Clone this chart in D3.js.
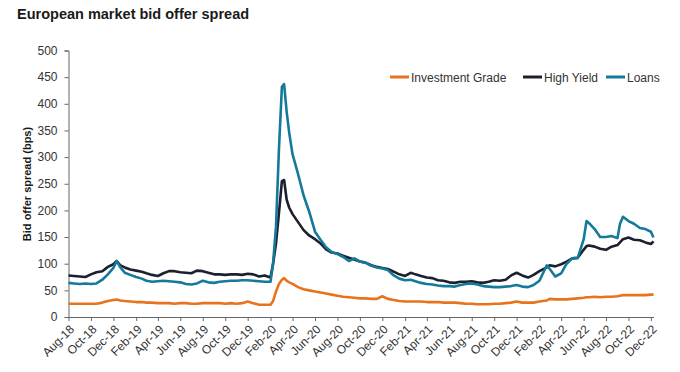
<!doctype html>
<html lang="en">
<head>
  <meta charset="utf-8">
  <title>European market bid offer spread</title>
  <style>
    body { margin: 0; background: #fff; }
    svg { font-family: "Liberation Sans", Arial, sans-serif; }
    .title { font-size: 14.5px; font-weight: bold; fill: #1a1a1a; }
    .axis text { font-size: 12px; fill: #333; }
    .axis path, .axis line { stroke: #666; }
    .ytitle { font-size: 11px; font-weight: bold; fill: #1a1a1a; }
    .legend text { font-size: 12px; fill: #333; }
  </style>
</head>
<body>
  <svg width="680" height="372"></svg>
  <script src="https://cdn.jsdelivr.net/npm/d3@7"></script>
  <script>
    // data
    var dates = [
      "2018-08-01","2018-08-16","2018-09-01","2018-09-16","2018-10-01","2018-10-16","2018-11-01","2018-11-16",
      "2018-12-01","2018-12-10","2018-12-20","2019-01-01","2019-01-16","2019-02-01","2019-02-16","2019-03-01",
      "2019-03-16","2019-04-01","2019-04-16","2019-05-01","2019-05-16","2019-06-01","2019-06-16","2019-07-01",
      "2019-07-16","2019-08-01","2019-08-16","2019-09-01","2019-09-16","2019-10-01","2019-10-16","2019-11-01",
      "2019-11-16","2019-12-01","2019-12-16","2020-01-01","2020-01-16","2020-02-01","2020-02-08","2020-02-16",
      "2020-02-24","2020-03-03","2020-03-09","2020-03-16","2020-03-23","2020-04-01","2020-04-16","2020-05-01",
      "2020-05-16","2020-06-01","2020-06-16","2020-07-01","2020-07-16","2020-08-01","2020-08-16","2020-09-01",
      "2020-09-16","2020-10-01","2020-10-16","2020-11-01","2020-11-16","2020-12-01","2020-12-16","2021-01-01",
      "2021-01-16","2021-02-01","2021-02-16","2021-03-01","2021-03-16","2021-04-01","2021-04-16","2021-05-01",
      "2021-05-16","2021-06-01","2021-06-16","2021-07-01","2021-07-16","2021-08-01","2021-08-16","2021-09-01",
      "2021-09-16","2021-10-01","2021-10-16","2021-11-01","2021-11-16","2021-12-01","2021-12-16","2022-01-01",
      "2022-01-16","2022-02-01","2022-02-21","2022-03-01","2022-03-16","2022-04-01","2022-04-16","2022-05-01",
      "2022-05-16","2022-06-01","2022-06-09","2022-06-16","2022-07-01","2022-07-16","2022-08-01","2022-08-16",
      "2022-09-01","2022-09-08","2022-09-16","2022-10-01","2022-10-16","2022-11-01","2022-11-16","2022-12-01",
      "2022-12-08"
    ];

    var investmentGrade = [
      25,25,25,25,25,25,27,30, 32,33,31,30,29,28,28,27,
      27,26,26,26,25,26,26,25, 25,26,26,26,26,25,26,25,
      26,29,26,23,23,23,30,48, 62,70,73,68,65,62,56,52,
      50,48,46,44,42,40,38,37, 36,35,35,34,34,39,34,32,
      30,29,29,29,29,28,28,28, 27,27,27,26,25,25,24,24,
      24,25,25,26,27,29,27,27, 27,29,31,34,33,33,33,34,
      35,36,37,37,38,37,38,38, 39,40,41,41,41,41,41,42,
      42
    ];

    var highYield = [
      78,77,76,75,80,84,86,94, 99,105,97,93,89,87,85,82,
      79,77,82,86,86,84,83,82, 87,86,83,80,80,79,80,80,
      79,81,80,76,78,74,100,138, 195,255,257,220,205,193,178,163,
      153,146,138,127,121,119,115,111, 108,104,102,97,94,92,90,85,
      80,77,83,80,77,74,73,69, 68,65,64,66,66,67,65,64,
      66,69,68,70,78,83,78,74, 79,86,93,97,95,99,104,110,
      111,126,133,134,132,128,126,132, 135,140,146,149,145,144,140,137,
      142
    ];

    var loans = [
      64,63,62,63,62,63,70,80, 92,105,93,83,79,75,72,68,
      66,67,68,67,66,65,62,61, 63,68,65,64,66,67,68,68,
      69,69,68,67,66,66,100,170, 315,432,437,385,345,305,268,228,
      198,160,145,131,122,118,113,105, 110,104,102,96,93,91,88,78,
      72,69,70,67,64,62,61,59, 58,58,57,60,62,63,61,58,
      57,56,56,57,58,60,57,56, 60,68,97,90,76,82,100,110,
      111,145,180,176,165,150,150,152, 148,175,188,180,175,167,165,160,
      149
    ];

    var seriesNames = ["Investment Grade", "High Yield", "Loans"];
    var seriesColors = ["#e8731c", "#1c1f2e", "#14799b"];
    var yTicks = [0, 50, 100, 150, 200, 250, 300, 350, 400, 450, 500];
    var xTickLabels = [
      "Aug-18","Oct-18","Dec-18","Feb-19","Apr-19","Jun-19","Aug-19","Oct-19","Dec-19",
      "Feb-20","Apr-20","Jun-20","Aug-20","Oct-20","Dec-20","Feb-21","Apr-21","Jun-21",
      "Aug-21","Oct-21","Dec-21","Feb-22","Apr-22","Jun-22","Aug-22","Oct-22","Dec-22"
    ];

    var svg = d3.select("svg");
    var parseDate = d3.timeParse("%Y-%m-%d");
    var parseTick = d3.timeParse("%b-%y");
    var dt = dates.map(parseDate);

    var x = d3.scaleTime()
      .domain([dt[0], dt[dt.length - 1]])
      .range([68.5, 653.5]);
    var y = d3.scaleLinear().domain([0, 500]).range([317, 50.5]);

    svg.append("text").attr("class", "title")
      .attr("x", 17).attr("y", 19)
      .text("European market bid offer spread");

    // y axis
    var yAxis = svg.append("g").attr("class", "axis")
      .attr("transform", "translate(68.5,0)")
      .call(d3.axisLeft(y).tickValues(yTicks).tickSize(4).tickPadding(7).tickSizeOuter(4));
    yAxis.selectAll("text").attr("font-size", 12.5);

    svg.append("text").attr("class", "ytitle")
      .attr("transform", "translate(31,184) rotate(-90)")
      .attr("text-anchor", "middle")
      .text("Bid offer spread (bps)");

    // x axis
    var tickDates = xTickLabels.map(parseTick);
    var xAxis = svg.append("g").attr("class", "axis")
      .attr("transform", "translate(0,317)")
      .call(d3.axisBottom(x).tickValues(tickDates).tickSize(4).tickSizeOuter(0).tickFormat(d3.timeFormat("%b-%y")));
    xAxis.selectAll("text")
      .attr("text-anchor", "end")
      .attr("font-size", 11.5)
      .attr("dy", "0.35em")
      .attr("y", 0)
      .attr("transform", "translate(3,10) rotate(-45)");

    // lines
    var allSeries = [investmentGrade, highYield, loans];
    var line = d3.line()
      .x(function (d, i) { return x(dt[i]); })
      .y(function (d) { return y(d); })
      .curve(d3.curveLinear);

    svg.append("g").selectAll("path")
      .data(allSeries)
      .enter().append("path")
      .attr("d", line)
      .attr("fill", "none")
      .attr("stroke", function (d, i) { return seriesColors[i]; })
      .attr("stroke-width", 2.6)
      .attr("stroke-linejoin", "round");

    // legend
    var legendX = [390, 523, 606];
    var legend = svg.append("g").attr("class", "legend");
    seriesNames.forEach(function (name, i) {
      legend.append("line")
        .attr("x1", legendX[i]).attr("x2", legendX[i] + 19)
        .attr("y1", 77).attr("y2", 77)
        .attr("stroke", seriesColors[i]).attr("stroke-width", 3);
      legend.append("text")
        .attr("x", legendX[i] + 21).attr("y", 81.5)
        .text(name);
    });
  </script>
</body>
</html>
